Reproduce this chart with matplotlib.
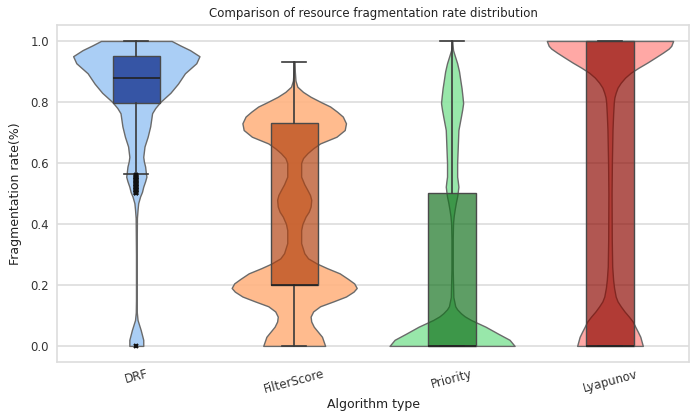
import numpy as np
import matplotlib
matplotlib.use("Agg")
import matplotlib.pyplot as plt

categories = ["DRF", "FilterScore", "Priority", "Lyapunov"]
violin_colors = ["#a1c9f4", "#ffb482", "#8de5a1", "#ff9f9b"]
box_colors = ["#001c7f", "#b1400d", "#12711c", "#8c0800"]

# Violin density profiles (value, relative half-width)
drf_y = [0.0, 0.02, 0.052, 0.085, 0.11, 0.15, 0.3, 0.42, 0.447, 0.468, 0.49, 0.505,
         0.522, 0.54, 0.555, 0.57, 0.588, 0.605, 0.62, 0.654, 0.686, 0.72, 0.763,
         0.78, 0.80, 0.83, 0.86, 0.894, 0.927, 0.95, 0.97, 0.985, 1.0]
drf_w = [0.11, 0.11, 0.07, 0.02, 0.008, 0.005, 0.005, 0.01, 0.02, 0.03, 0.06, 0.09,
         0.11, 0.14, 0.16, 0.15, 0.14, 0.12, 0.11, 0.13, 0.18, 0.22, 0.25,
         0.30, 0.38, 0.54, 0.66, 0.77, 0.95, 1.0, 0.85, 0.70, 0.56]

fs_y = [0.0, 0.03, 0.063, 0.08, 0.096, 0.113, 0.13, 0.146, 0.162, 0.178, 0.19, 0.205,
        0.22, 0.238, 0.255, 0.27, 0.287, 0.304, 0.337, 0.38, 0.40, 0.424, 0.44,
        0.457, 0.479, 0.495, 0.511, 0.53, 0.555, 0.6, 0.616, 0.632, 0.648, 0.664,
        0.686, 0.708, 0.73, 0.752, 0.768, 0.785, 0.80, 0.817, 0.833, 0.85, 0.87,
        0.9, 0.932]
fs_w = [0.49, 0.44, 0.31, 0.27, 0.26, 0.30, 0.41, 0.62, 0.82, 0.94, 0.99, 0.95,
        0.85, 0.72, 0.52, 0.36, 0.22, 0.16, 0.11, 0.11, 0.13, 0.18, 0.23,
        0.26, 0.27, 0.25, 0.21, 0.16, 0.11, 0.11, 0.14, 0.21, 0.30, 0.41,
        0.67, 0.80, 0.82, 0.77, 0.68, 0.57, 0.42, 0.26, 0.14, 0.05, 0.02,
        0.01, 0.005]

pr_y = [0.0, 0.02, 0.04, 0.063, 0.085, 0.097, 0.107, 0.12, 0.13, 0.16, 0.25, 0.35,
        0.402, 0.425, 0.446, 0.47, 0.49, 0.505, 0.522, 0.54, 0.555, 0.6, 0.654,
        0.708, 0.73, 0.752, 0.775, 0.796, 0.817, 0.845, 0.872, 0.9, 0.927, 0.95,
        0.97, 0.985, 1.0]
pr_w = [0.99, 0.91, 0.73, 0.53, 0.30, 0.20, 0.14, 0.08, 0.05, 0.02, 0.01, 0.01,
        0.015, 0.025, 0.04, 0.06, 0.08, 0.09, 0.10, 0.09, 0.08, 0.08, 0.09,
        0.10, 0.12, 0.14, 0.16, 0.175, 0.165, 0.15, 0.13, 0.11, 0.08, 0.045,
        0.015, 0.008, 0.003]

ly_y = [0.0, 0.015, 0.03, 0.047, 0.063, 0.08, 0.096, 0.113, 0.13, 0.146, 0.162,
        0.19, 0.216, 0.26, 0.35, 0.5, 0.6, 0.71, 0.76, 0.798, 0.815, 0.83, 0.847,
        0.863, 0.88, 0.896, 0.912, 0.929, 0.946, 0.962, 0.975, 0.984, 1.0]
ly_w = [0.52, 0.50, 0.48, 0.44, 0.40, 0.36, 0.30, 0.23, 0.17, 0.12, 0.09,
        0.065, 0.05, 0.035, 0.028, 0.025, 0.03, 0.04, 0.05, 0.06, 0.07, 0.09, 0.12,
        0.17, 0.24, 0.33, 0.45, 0.59, 0.72, 0.84, 0.93, 0.97, 1.0]

violin_y = [drf_y, fs_y, pr_y, ly_y]
violin_w = [drf_w, fs_w, pr_w, ly_w]

# Box statistics
q1 = [0.798, 0.20, 0.0, 0.0]
med = [0.878, 0.20, 0.0, 0.0]
q3 = [0.951, 0.732, 0.50, 1.0]
whislo = [0.563, 0.0, 0.0, 0.0]
whishi = [1.0, 0.932, 1.0, 1.0]
drf_fliers = [0.0, 0.500, 0.5025, 0.505, 0.5075, 0.510, 0.5125, 0.515, 0.5175,
              0.520, 0.5225, 0.525, 0.5275, 0.530, 0.5325, 0.535, 0.5375, 0.540,
              0.5425, 0.545, 0.5475, 0.550, 0.5525, 0.555, 0.5575, 0.560]
fliers = [drf_fliers, [], [], []]

plt.rcParams['font.family'] = ['DejaVu Sans']
fig = plt.figure(figsize=(6.91, 4.16), dpi=100)
ax = fig.add_axes([0.083, 0.130, 0.914, 0.810])

half = 0.4
for i in range(len(categories)):
    y = np.array(violin_y[i])
    w = np.array(violin_w[i]) * half
    ax.fill_betweenx(y, i - w, i + w,
                     facecolor=matplotlib.colors.to_rgba(violin_colors[i], 0.9),
                     edgecolor="#6a6a6a", linewidth=1.0, zorder=2)

stats = []
for i in range(len(categories)):
    stats.append(dict(med=med[i], q1=q1[i], q3=q3[i], whislo=whislo[i],
                      whishi=whishi[i], fliers=fliers[i]))
bp = ax.bxp(stats, positions=range(len(categories)), widths=0.3,
            patch_artist=True, manage_ticks=False,
            boxprops=dict(linewidth=1.0, edgecolor="#4a4a4a"),
            whiskerprops=dict(color="#3a3a3a", linewidth=1.2),
            capprops=dict(color="#3a3a3a", linewidth=1.2),
            medianprops=dict(color="#222222", linewidth=1.2),
            flierprops=dict(marker="x", markersize=3.5, markeredgewidth=1.5,
                            markeredgecolor="#111111", markerfacecolor="#111111"))
for patch, c in zip(bp['boxes'], box_colors):
    patch.set_facecolor(matplotlib.colors.to_rgba(c, 0.68))
    patch.set_zorder(3)
for k in ('whiskers', 'caps', 'medians', 'fliers'):
    for a in bp[k]:
        a.set_zorder(4)

ax.set_xlim(-0.5, 3.5)
ax.set_ylim(-0.0525, 1.0525)
ax.set_xticks(range(len(categories)))
ax.set_xticklabels(categories, rotation=15)
ax.set_yticks([0.0, 0.2, 0.4, 0.6, 0.8, 1.0])
ax.set_yticklabels(["0.0", "0.2", "0.4", "0.6", "0.8", "1.0"])
ax.tick_params(axis='both', length=0, labelsize=8.5, colors="#333333")
ax.tick_params(axis='x', pad=4)
ax.tick_params(axis='y', pad=6)
ax.yaxis.grid(True, color="#dddddd", linewidth=1.2, zorder=0)
ax.xaxis.grid(False)
ax.set_axisbelow(True)
for s in ax.spines.values():
    s.set_color("#dddddd")
    s.set_linewidth(1.2)

ax.set_title("Comparison of resource fragmentation rate distribution",
             fontsize=8.5, color="#222222", pad=6)
ax.set_xlabel("Algorithm type", fontsize=9, color="#222222", labelpad=1)
ax.set_ylabel("Fragmentation rate(%)", fontsize=9, color="#222222", labelpad=6)

fig.savefig("out.png", dpi=100, facecolor="white")
